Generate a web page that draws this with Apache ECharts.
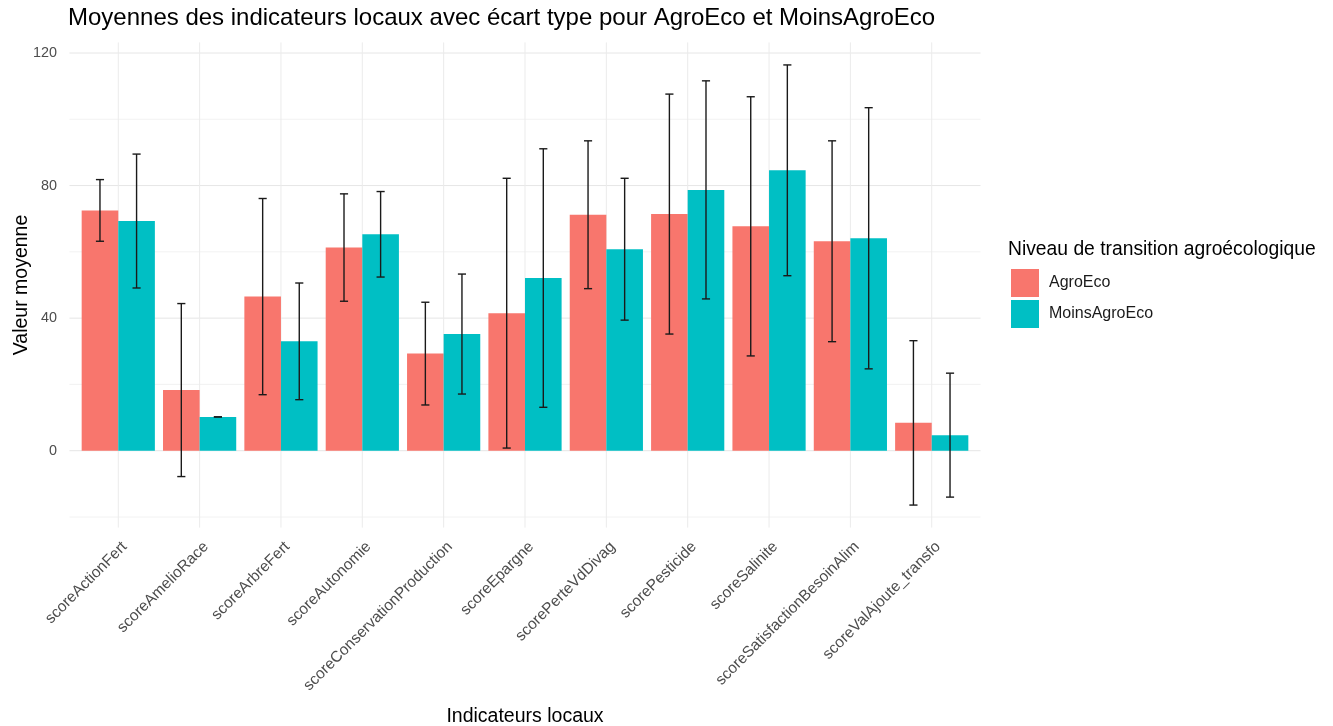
<!DOCTYPE html>
<html>
<head>
<meta charset="utf-8">
<script src="https://cdn.jsdelivr.net/npm/echarts@6/dist/echarts.min.js"></script>
<style>
  html, body { margin: 0; padding: 0; background: #ffffff; }
  #chart { width: 1333px; height: 726px; }
</style>
</head>
<body>
<div id="chart"></div>
<script>
// Local indicators (x categories)
const categories = [
  'scoreActionFert', 'scoreAmelioRace', 'scoreArbreFert', 'scoreAutonomie',
  'scoreConservationProduction', 'scoreEpargne', 'scorePerteVdDivag',
  'scorePesticide', 'scoreSalinite', 'scoreSatisfactionBesoinAlim',
  'scoreValAjoute_transfo'
];

// Group names
const groupNames = ['AgroEco', 'MoinsAgroEco'];

// Mean values per group
const agroMean  = [72.5, 18.3, 46.5, 61.3, 29.3, 41.5, 71.2, 71.4, 67.7, 63.2, 8.4];
const moinsMean = [69.3, 10.2, 33.0, 65.3, 35.2, 52.1, 60.8, 78.7, 84.6, 64.1, 4.7];

// Standard deviations per group
const agroSd  = [9.3, 26.1, 29.6, 16.2, 15.5, 40.7, 22.3, 36.2, 39.1, 30.3, 24.8];
const moinsSd = [20.2, 0.0, 17.6, 12.9, 18.1, 39.0, 21.4, 32.9, 31.8, 39.4, 18.7];

// Y axis ticks: labelled (major) and unlabelled (minor) grid lines
const yMajorTicks = [0, 40, 80, 120];
const yMinorTicks = [-20, 20, 60, 100];

const colors = ['#F8766D', '#00BFC4'];
const FONT = "'Liberation Sans', Arial, sans-serif";

// Panel grid lines: [x index, y value, kind] (kind 0 = horizontal major, 1 = horizontal minor, 2 = vertical)
const gridLineData = [];
yMajorTicks.forEach(v => gridLineData.push([0, v, 0]));
yMinorTicks.forEach(v => gridLineData.push([0, v, 1]));
categories.forEach((c, i) => gridLineData.push([i, 0, 2]));

function renderGridLine(params, api) {
  const kind = api.value(2);
  const band = api.size([1, 0])[0];
  const unit = api.size([0, 1])[1];
  const cs = params.coordSys;
  // discrete axis padded by 0.6 band, continuous axis padded a little beyond the -20..120 range
  const left = cs.x - 0.1 * band;
  const right = cs.x + cs.width + 0.1 * band;
  const top = cs.y - 3.2 * unit;
  const bottom = cs.y + cs.height + 3.2 * unit;
  if (kind === 2) {
    const x = api.coord([api.value(0), 0])[0];
    return { type: 'line', shape: { x1: x, y1: top, x2: x, y2: bottom },
      style: { stroke: '#ebebeb', lineWidth: 1 } };
  }
  const y = api.coord([0, api.value(1)])[1];
  return { type: 'line', shape: { x1: left, y1: y, x2: right, y2: y },
    style: { stroke: kind === 0 ? '#e6e6e6' : '#f2f2f2', lineWidth: 1 } };
}

function makeErrorRenderer(offsetFrac) {
  return function (params, api) {
    const idx = api.value(0);
    const mean = api.value(1);
    const sd = api.value(2);
    const band = api.size([1, 0])[0];
    const cx = api.coord([idx, mean])[0] + offsetFrac * band;
    const yTop = api.coord([idx, mean + sd])[1];
    const yBot = api.coord([idx, mean - sd])[1];
    const half = 0.05 * band;
    const style = { stroke: '#1a1a1a', lineWidth: 1.4 };
    return {
      type: 'group',
      children: [
        { type: 'line', shape: { x1: cx, y1: yTop, x2: cx, y2: yBot }, style },
        { type: 'line', shape: { x1: cx - half, y1: yTop, x2: cx + half, y2: yTop }, style },
        { type: 'line', shape: { x1: cx - half, y1: yBot, x2: cx + half, y2: yBot }, style }
      ]
    };
  };
}

const chart = echarts.init(document.getElementById('chart'), null, { renderer: 'canvas' });

chart.setOption({
  animation: false,
  backgroundColor: '#ffffff',
  textStyle: { fontFamily: FONT },
  title: [
    {
      text: 'Moyennes des indicateurs locaux avec écart type pour AgroEco et MoinsAgroEco',
      left: 68, top: 6, padding: 0,
      textStyle: { fontFamily: FONT, fontSize: 24, fontWeight: 'normal', color: '#000000' }
    },
    {
      text: 'Niveau de transition agroécologique',
      left: 1008, top: 240, padding: 0,
      textStyle: { fontFamily: FONT, fontSize: 19.3, fontWeight: 'normal', color: '#000000' }
    }
  ],
  legend: {
    data: groupNames,
    orient: 'vertical',
    left: 1011, top: 269, padding: 0,
    itemWidth: 28, itemHeight: 28, itemGap: 3,
    icon: 'rect',
    textStyle: { fontFamily: FONT, fontSize: 16, color: '#1a1a1a', padding: [0, 0, 0, 5] }
  },
  grid: { left: 77.6, top: 53, width: 894.8, height: 464, outerBoundsMode: 'none' },
  xAxis: {
    type: 'category',
    data: categories,
    name: 'Indicateurs locaux',
    nameLocation: 'middle',
    nameGap: 190,
    nameMoveOverlap: false,
    nameTextStyle: { fontFamily: FONT, fontSize: 19.5, color: '#000000' },
    axisLine: { show: false },
    axisTick: { show: false },
    splitLine: { show: false },
    axisLabel: {
      interval: 0, rotate: 45, margin: 21,
      verticalAlign: 'top', lineHeight: 18,
      fontFamily: FONT, fontSize: 15.5, color: '#4d4d4d'
    }
  },
  yAxis: {
    type: 'value',
    min: -20, max: 120, interval: 20,
    name: 'Valeur moyenne',
    nameLocation: 'middle',
    nameGap: 46,
    nameMoveOverlap: false,
    nameTextStyle: { fontFamily: FONT, fontSize: 19.5, color: '#000000' },
    axisLine: { show: false },
    axisTick: { show: false },
    splitLine: { show: false },
    axisLabel: {
      margin: 20.6,
      fontFamily: FONT, fontSize: 14.4, color: '#4d4d4d',
      formatter: v => (yMajorTicks.indexOf(v) >= 0 ? String(v) : '')
    }
  },
  series: [
    {
      type: 'custom',
      name: 'grid',
      silent: true,
      clip: false,
      z: 0,
      renderItem: renderGridLine,
      data: gridLineData,
      encode: { x: 0, y: 1 }
    },
    {
      type: 'bar',
      name: groupNames[0],
      data: agroMean,
      itemStyle: { color: colors[0] },
      barGap: '0%',
      barCategoryGap: '10%',
      z: 2
    },
    {
      type: 'bar',
      name: groupNames[1],
      data: moinsMean,
      itemStyle: { color: colors[1] },
      barGap: '0%',
      barCategoryGap: '10%',
      z: 2
    },
    {
      type: 'custom',
      name: 'sdAgro',
      silent: true,
      z: 5,
      renderItem: makeErrorRenderer(-0.225),
      data: categories.map((c, i) => [i, agroMean[i], agroSd[i]]),
      encode: { x: 0, y: 1 }
    },
    {
      type: 'custom',
      name: 'sdMoins',
      silent: true,
      z: 5,
      renderItem: makeErrorRenderer(0.225),
      data: categories.map((c, i) => [i, moinsMean[i], moinsSd[i]]),
      encode: { x: 0, y: 1 }
    }
  ]
});
</script>
</body>
</html>
